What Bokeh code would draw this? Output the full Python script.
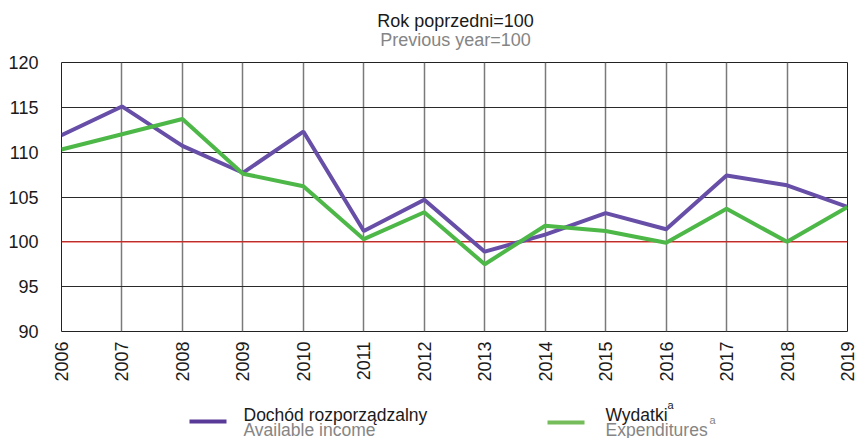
import math
from bokeh.plotting import figure
from bokeh.layouts import column
from bokeh.models import Span, FixedTicker, Range1d
from bokeh.core.properties import value
from bokeh.embed import file_html
from bokeh.resources import INLINE

years = list(range(2006, 2020))
income = [111.9, 115.1, 110.7, 107.7, 112.3, 101.2, 104.7, 98.9, 100.8, 103.2, 101.4, 107.4, 106.3, 103.9]
expend = [110.3, 112.0, 113.7, 107.6, 106.2, 100.3, 103.3, 97.5, 101.8, 101.2, 99.9, 103.7, 100.0, 103.9]
y_ticks = [90, 95, 100, 105, 110, 115, 120]
title_pl = "Rok poprzedni=100"
title_en = "Previous year=100"
leg_pl = ["Dochód rozporządzalny", "Wydatki"]
leg_en = ["Available income", "Expenditures"]
sup = "a"

FONT = "Liberation Sans"
W = 858
BL, BR = 61, 11
HEAD_H, MAIN_H, LEG_H = 50, 335, 53
C_INC, C_EXP = "#674ea7", "#4db848"
C_INC_LEG, C_EXP_LEG = "#5a3a98", "#74bd5a"
DARK, GRAY = "#1a1a1a", "#858585"


def blank(h):
    f = figure(width=W, height=h, x_range=Range1d(BL, W - BR), y_range=Range1d(h, 0),
               output_backend="svg", toolbar_location=None,
               x_axis_type=None, y_axis_type=None,
               min_border_left=BL, min_border_right=BR, min_border_top=0, min_border_bottom=0)
    f.outline_line_color = None
    f.xgrid.visible = False
    f.ygrid.visible = False
    return f


def txt(f, x, y, s, size, color, align="left"):
    f.text(x=[x], y=[y], text=[s], text_font=value(FONT), text_font_size=size,
           text_color=color, text_align=align, text_baseline="alphabetic")


# header
head = blank(HEAD_H)
txt(head, 455, 20, title_pl, "18px", DARK, "center")
txt(head, 455, 39, title_en, "18px", GRAY, "center")

# main chart
p = figure(width=W, height=MAIN_H, x_range=(2006, 2019), y_range=(90, 120),
           output_backend="svg", toolbar_location=None,
           min_border_left=BL, min_border_right=BR, min_border_top=12, min_border_bottom=54)
p.outline_line_color = "#222222"
p.outline_line_width = 1

for ax in (p.xaxis[0], p.yaxis[0]):
    ax.axis_line_color = None
    ax.major_tick_line_color = None
    ax.minor_tick_line_color = None
    ax.major_tick_out = 0
    ax.major_tick_in = 0
    ax.major_label_text_font = FONT
    ax.major_label_text_font_size = "18px"
    ax.major_label_text_color = DARK

p.xaxis.ticker = FixedTicker(ticks=years)
p.xaxis.major_label_orientation = math.pi / 2
p.xaxis.major_label_standoff = 10
p.yaxis.ticker = FixedTicker(ticks=y_ticks)
p.yaxis.major_label_standoff = 23

p.xgrid.ticker = FixedTicker(ticks=years)
p.xgrid.grid_line_color = "#7a7a7a"
p.xgrid.grid_line_width = 1.5
p.ygrid.ticker = FixedTicker(ticks=y_ticks)
p.ygrid.grid_line_color = "#2a2a2a"
p.ygrid.grid_line_width = 1

p.add_layout(Span(location=100, dimension="width", line_color="#e8322d",
                  line_width=1.3, level="underlay"))

p.line(years, income, line_color=C_INC, line_width=4)
p.line(years, expend, line_color=C_EXP, line_width=4)

# legend
leg = blank(LEG_H)
leg.segment(x0=[189], y0=[36], x1=[226], y1=[36], line_color=C_INC_LEG, line_width=4)
leg.segment(x0=[547], y0=[37], x1=[584], y1=[37], line_color=C_EXP_LEG, line_width=4)
txt(leg, 243, 29, leg_pl[0], "17.5px", DARK)
txt(leg, 243, 44, leg_en[0], "17.5px", GRAY)
txt(leg, 605, 29, leg_pl[1], "17.5px", DARK)
txt(leg, 667, 19, sup, "11px", DARK)
txt(leg, 605, 44, leg_en[1], "17.5px", GRAY)
txt(leg, 709, 34, sup, "11px", GRAY)

layout = column(head, p, leg, spacing=0)
open("out.html", "w").write(file_html(layout, INLINE))
